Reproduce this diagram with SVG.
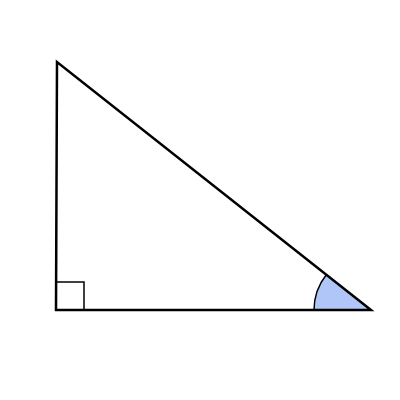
<svg xmlns="http://www.w3.org/2000/svg" width="400" height="400" viewBox="0 0 400 400">
<style>
.edge{fill:none;stroke:#000;stroke-width:2.5;stroke-linejoin:miter}
.mark{fill:none;stroke:#000;stroke-width:1.5}
</style>
<rect width="400" height="400" fill="#fff"/>
<g id="angle">
<path d="M371,310 L314,310 A57,57 0 0 1 326.3,274.7 Z" fill="#b1c6f8" stroke="none"/>
<path d="M314,310 A57,57 0 0 1 326.3,274.7" class="mark"/>
</g>
<g id="right-angle">
<polyline points="56,282 84,282 84,310" class="mark"/>
</g>
<g id="triangle">
<polygon points="57,62 56,310 371,310" class="edge"/>
</g>
</svg>
